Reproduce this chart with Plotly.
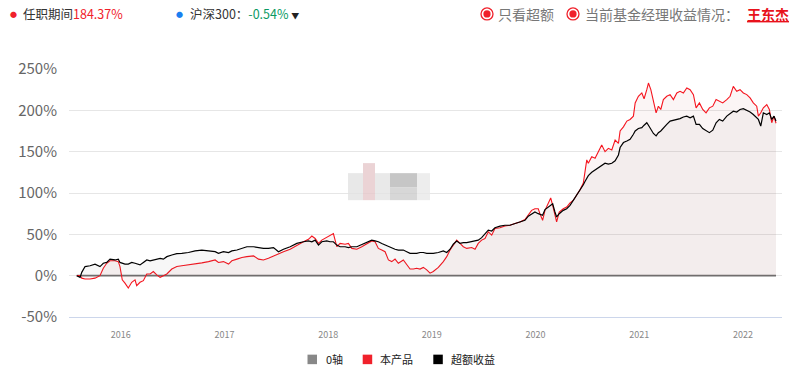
import datetime as dt
import plotly.graph_objects as go

# ---- data ----
years = [
    2015.576, 2015.608, 2015.624, 2015.656, 2015.704, 2015.752, 2015.800, 2015.832, 2015.865, 2015.897,
    2015.945, 2015.977, 2015.993, 2016.015, 2016.041, 2016.073, 2016.106, 2016.138, 2016.154, 2016.186,
    2016.218, 2016.251, 2016.283, 2016.314, 2016.347, 2016.379, 2016.411, 2016.444, 2016.492, 2016.540,
    2016.588, 2016.652, 2016.716, 2016.781, 2016.845, 2016.909, 2016.941, 2016.989, 2017.038, 2017.070,
    2017.119, 2017.167, 2017.215, 2017.279, 2017.327, 2017.375, 2017.423, 2017.472, 2017.520, 2017.568,
    2017.633, 2017.697, 2017.761, 2017.809, 2017.842, 2017.874, 2017.906, 2017.938, 2017.986, 2018.018,
    2018.050, 2018.083, 2018.115, 2018.163, 2018.195, 2018.228, 2018.276, 2018.324, 2018.372, 2018.420,
    2018.452, 2018.484, 2018.517, 2018.549, 2018.581, 2018.613, 2018.645, 2018.677, 2018.725, 2018.758,
    2018.790, 2018.822, 2018.854, 2018.886, 2018.918, 2018.951, 2018.983, 2019.014, 2019.063, 2019.111,
    2019.144, 2019.176, 2019.207, 2019.240, 2019.272, 2019.304, 2019.337, 2019.385, 2019.417, 2019.448,
    2019.481, 2019.513, 2019.545, 2019.578, 2019.609, 2019.658, 2019.706, 2019.754, 2019.802, 2019.851,
    2019.899, 2019.931, 2019.963, 2019.995, 2020.027, 2020.043, 2020.069, 2020.092, 2020.123, 2020.147,
    2020.166, 2020.188, 2020.204, 2020.229, 2020.268, 2020.301, 2020.333, 2020.364, 2020.397, 2020.429,
    2020.461, 2020.477, 2020.494, 2020.509, 2020.542, 2020.574, 2020.606, 2020.638, 2020.670, 2020.702,
    2020.735, 2020.767, 2020.799, 2020.815, 2020.847, 2020.880, 2020.911, 2020.943, 2020.960, 2020.991,
    2021.024, 2021.046, 2021.072, 2021.088, 2021.111, 2021.136, 2021.162, 2021.184, 2021.207, 2021.232,
    2021.265, 2021.297, 2021.329, 2021.362, 2021.393, 2021.425, 2021.458, 2021.490, 2021.522, 2021.548,
    2021.580, 2021.612, 2021.644, 2021.676, 2021.709, 2021.741, 2021.772, 2021.805, 2021.844, 2021.876,
    2021.907, 2021.940, 2021.972, 2022.004, 2022.037, 2022.069, 2022.100, 2022.133, 2022.149, 2022.172,
    2022.197, 2022.230, 2022.255, 2022.278, 2022.300, 2022.319,
]

product = [  # 本产品 (%)
    0, 0, -3, -4, -4, -3, 0, 9, 15, 18,
    18, 17, 11, -5, -9, -15, -8, -5, -12, -8,
    -6, 2, 2, 5, 1, -2, 0, 2, 8, 11,
    12, 13, 14, 15.5, 17, 19, 16, 17, 14, 18,
    20, 22, 23, 24, 20, 19, 21, 24, 26, 29,
    32, 37, 41, 44, 48, 45, 39, 43, 46, 48,
    51, 35, 39, 38, 39, 33, 32, 35, 39, 42,
    41, 33, 31, 29, 19, 17, 20, 15, 19, 13,
    8, 8, 9, 8, 10, 7, 3, 5, 10, 17,
    23, 31, 37, 43, 39, 35, 33, 34, 32, 39,
    43, 45, 53, 49, 57, 58, 60, 61, 63, 65,
    68, 73, 79, 81, 81, 75, 67, 79, 87, 94,
    85, 73, 65, 77, 81, 83, 88, 91, 97, 104,
    112, 128, 140, 136, 144, 142, 150, 158, 150, 154,
    152, 164, 160, 175, 180, 187, 189, 193, 209, 217,
    221, 214, 225, 233, 225, 209, 197, 205, 201, 213,
    217, 219, 213, 221, 223, 221, 227, 225, 219, 203,
    209, 201, 197, 203, 205, 213, 211, 209, 213, 217,
    229, 223, 225, 221, 219, 215, 209, 205, 193, 197,
    203, 207, 201, 185, 193, 184.37,
]

excess = [  # 超额收益 (%)
    0, -2, 4, 11, 12, 14, 11, 15, 16, 20,
    19, 20, 16, 15, 14, 14, 16, 15, 14, 13,
    16, 19, 18, 19, 20, 21, 20, 23, 25, 26.6,
    27, 28, 30, 31, 30, 29, 27, 29, 28, 30,
    31, 33, 35, 35, 34, 33, 33, 34, 29, 32,
    35, 39, 41, 42, 41, 43, 37, 41, 42, 41,
    41, 37, 35, 35, 34, 35, 35, 38, 40, 43,
    42, 41, 39, 37, 35, 33, 32, 31, 31, 29,
    27, 27, 27, 28, 28, 27, 27, 27, 28, 30,
    28, 32, 38, 42, 39, 40, 40, 41, 42, 43,
    46, 50, 55, 54, 58, 60, 61, 61, 63, 65,
    67, 72, 75, 77, 75, 74, 73, 80, 83, 86,
    87, 77, 71, 75, 79, 81, 85, 91, 97, 103,
    110, 114, 118, 121, 125, 128, 130, 134, 136, 135,
    136, 139, 146, 155, 161, 163, 165, 171, 175, 178,
    179, 182, 185, 182, 177, 172, 169, 173, 175, 179,
    183, 187, 188, 189, 190, 192, 193, 191, 193, 183,
    183, 178, 175, 173, 176, 185, 189, 187, 193, 196,
    199, 198, 201, 202, 200, 198, 195, 191, 189, 181,
    197, 195, 197, 189, 193, 187,
]

tick_years = [2016, 2017, 2018, 2019, 2020, 2021, 2022]
y_ticks = [-50, 0, 50, 100, 150, 200, 250]
x_range_years = [2015.501, 2022.377]
legend_names = ["0轴", "本产品", "超额收益"]
legend_colors = ["#888888", "#f0212b", "#000000"]

assert len(years) == len(product) == len(excess)


def yr2date(y):
    year = int(y)
    start = dt.datetime(year, 1, 1)
    end = dt.datetime(year + 1, 1, 1)
    return start + (end - start) * (y - year)


dates = [yr2date(y) for y in years]

FONT = "Noto Sans CJK SC, Noto Sans, sans-serif"
RED = "#f5141e"

fig = go.Figure()

# zero axis line
fig.add_trace(go.Scatter(x=[dates[0], dates[-1]], y=[0, 0], mode="lines",
                         line=dict(color="#6e6e6e", width=1.8), showlegend=False,
                         hoverinfo="skip"))
fig.add_trace(go.Scatter(x=dates, y=product, mode="lines", fill="tozeroy",
                         fillcolor="rgba(200,120,120,0.07)",
                         line=dict(color=RED, width=1.1), showlegend=False))
fig.add_trace(go.Scatter(x=dates, y=excess, mode="lines", fill="tozeroy",
                         fillcolor="rgba(100,100,100,0.05)",
                         line=dict(color="#000000", width=1.2), showlegend=False))

# page geometry in page pixels (body margin is removed by the post script)
W, H = 800, 372
L, R, T, B = 69, 782, 69, 316.7


def PX(x):
    return (x - L) / (R - L)


def PY(y):
    return (B - y) / (B - T)


def note(x, y, text, size, color, anchor="left"):
    return dict(x=PX(x), y=PY(y), xref="paper", yref="paper", text=text,
                font=dict(size=size, family=FONT, color=color), showarrow=False,
                xanchor=anchor, yanchor="middle")


ann = [
    note(8, 14, "●", 7, "#f0212b"),
    note(21, 14, "任职期间<span style='color:#f0212b'>184.37%</span>", 12.5, "#333333"),
    note(174, 14, "●", 7, "#1a7ff0"),
    note(188, 14, "沪深300：<span style='color:#0a9a63'>-0.54%</span> "
                  "<span style='font-size:8px;color:#222'>▼</span>", 12.5, "#333333"),
    note(496, 14, "只看超额", 14, "#777777"),
    note(583, 14, "当前基金经理收益情况：", 14, "#777777"),
    note(791, 14, "<b><u>王东杰</u></b>", 14, "#e8121c", anchor="right"),
]

shapes = []
for cx in (487, 573):
    shapes.append(dict(type="circle", xref="paper", yref="paper",
                       x0=PX(cx - 6), x1=PX(cx + 6), y0=PY(14 + 6), y1=PY(14 - 6),
                       line=dict(color="#f0212b", width=1.3), fillcolor="white"))
    shapes.append(dict(type="circle", xref="paper", yref="paper",
                       x0=PX(cx - 3.6), x1=PX(cx + 3.6), y0=PY(14 + 3.6), y1=PY(14 - 3.6),
                       line=dict(width=0), fillcolor="#f0212b"))

# manual legend
leg_sq = [307.5, 362.7, 433.3]
leg_tx = [325, 379.3, 450]
for sx, tx, name, col in zip(leg_sq, leg_tx, legend_names, legend_colors):
    shapes.append(dict(type="rect", xref="paper", yref="paper",
                       x0=PX(sx), x1=PX(sx + 9.5), y0=PY(363.8), y1=PY(354.3),
                       line=dict(width=0), fillcolor=col))
    ann.append(note(tx - 1, 359, name, 11, "#222222"))

# blurred watermark blocks
blocks = [(348, 363, 173, 200, "#e2e2e2"), (363, 375, 163, 200, "#e6c8ca"),
          (375, 390, 173, 200, "#e4e4e4"), (390, 417, 173, 187, "#b8b8b8"),
          (390, 417, 187, 200, "#cdcdcd"), (417, 430, 173, 200, "#e8e8e8")]
for x0, x1, y0, y1, c in blocks:
    shapes.append(dict(type="rect", xref="paper", yref="paper", x0=PX(x0), x1=PX(x1),
                       y0=PY(y1), y1=PY(y0), line=dict(width=0), fillcolor=c, opacity=0.8,
                       layer="above"))

fig.update_layout(
    width=W, height=H,
    margin=dict(l=L, r=W - R, t=T, b=H - B, pad=0, autoexpand=False),
    paper_bgcolor="white", plot_bgcolor="white",
    font=dict(family=FONT),
    showlegend=False,
    annotations=ann,
    shapes=shapes,
    xaxis=dict(type="date", range=[yr2date(x_range_years[0]), yr2date(x_range_years[1])],
               tickvals=[dt.datetime(y, 1, 1) for y in tick_years],
               ticktext=[str(y) for y in tick_years],
               tickfont=dict(size=9, color="#888888", family=FONT),
               showgrid=False, zeroline=False, showline=True, linecolor="#ccd6eb", linewidth=1,
               ticks="outside", ticklen=9, tickcolor="rgba(0,0,0,0)", automargin=False),
    yaxis=dict(range=[-50, 250], tickvals=y_ticks, ticktext=[f"{v}%" for v in y_ticks],
               tickfont=dict(size=15, color="#666666", family=FONT),
               showgrid=True, gridcolor="#e6e6e6", gridwidth=1, zeroline=False,
               ticks="outside", ticklen=8, tickcolor="rgba(0,0,0,0)", automargin=False),
)

fig.write_html("out.html", config={"displayModeBar": False},
               post_script="document.body.style.margin='0';document.body.style.overflow='hidden';")
